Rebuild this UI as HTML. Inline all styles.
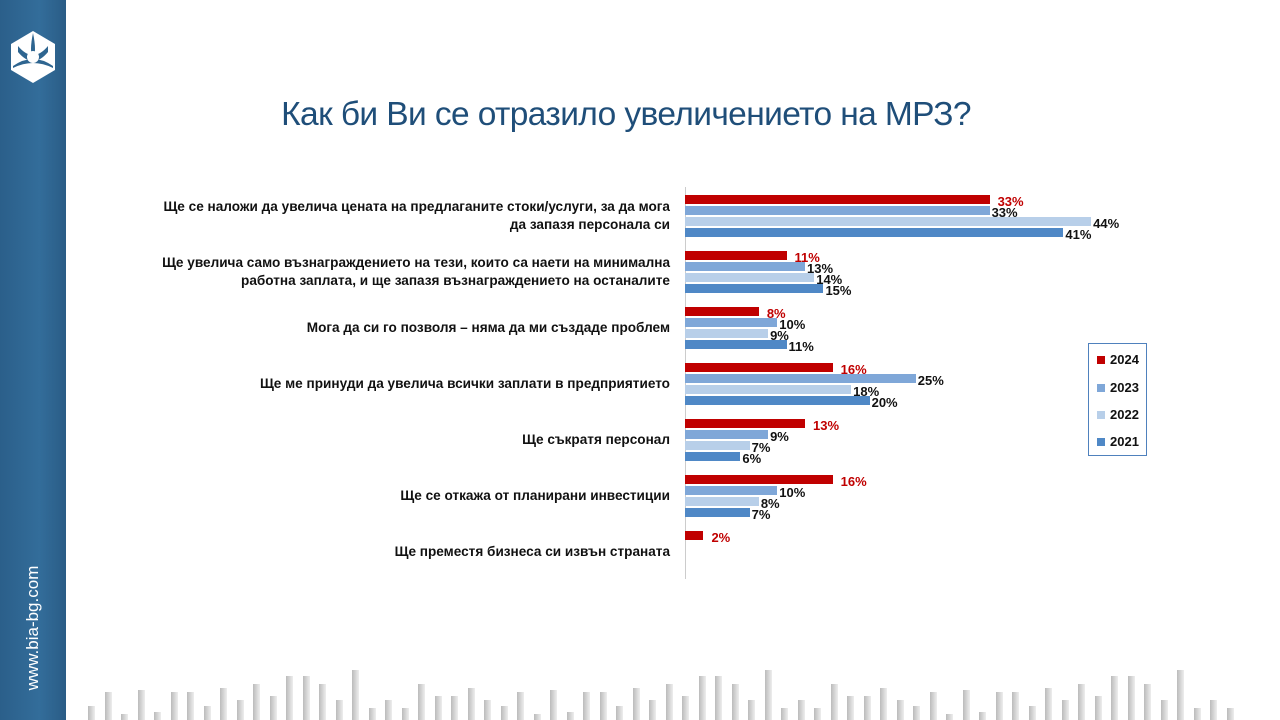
<!DOCTYPE html>
<html><head><meta charset="utf-8"><style>
body{margin:0;width:1280px;height:720px;position:relative;background:#fff;font-family:"Liberation Sans",sans-serif;overflow:hidden}
.side{position:absolute;left:0;top:0;width:66px;height:720px;background:linear-gradient(90deg,#2b5f8a,#336d9a 60%,#2a5c86)}
.url{position:absolute;left:33px;top:628px;transform:translate(-50%,-50%) rotate(-90deg);color:#fff;font-size:17px;white-space:nowrap}
h1{position:absolute;left:277px;width:698px;text-align:center;top:96px;margin:0;font-weight:normal;font-size:33.5px;color:#1f4e79;letter-spacing:-0.6px;white-space:nowrap}
.lab{position:absolute;right:610px;text-align:right;font-size:13.6px;font-weight:bold;color:#111;line-height:18px;width:600px}
.bar{position:absolute;height:9px;left:685px}
.v{position:absolute;font-size:13px;font-weight:bold;color:#111;line-height:12px}
.r{color:#c00000}
.axis{position:absolute;left:685px;top:187px;width:1px;height:392px;background:#ccc}
.leg{position:absolute;left:1088px;top:343px;width:57px;height:111px;border:1px solid #4f81bd;background:#fff}
.leg div{position:absolute;left:8px;font-size:13px;font-weight:bold;color:#111}
.leg span{display:inline-block;width:8px;height:8px;margin-right:5px}
.deco{position:absolute;bottom:0;width:7px;background:linear-gradient(90deg,#bbb,#eee)}
</style></head><body>
<div class="side">
<svg width="66" height="100" style="position:absolute;left:0;top:0"><polygon points="33,31 55,44 55,70 33,83 11,70 11,44" fill="#fff"/><path d="M33,33 Q37,52 33,58 Q29,52 33,33Z" fill="#2e6590"/><path d="M13,68 Q33,58 53,68 L53,66 Q33,52 13,66Z" fill="#2e6590"/><path d="M18,46 Q33,64 48,46 L48,52 Q33,70 18,52Z" fill="#2e6590"/><circle cx="33" cy="57" r="6" fill="#fff"/></svg>
<div class="url">www.bia-bg.com</div>
</div>
<h1>Как би Ви се отразило увеличението на МРЗ?</h1>
<div class="axis"></div>
<div id="c"></div>
<div class="leg">
<div style="top:8px"><span style="background:#c00000"></span>2024</div>
<div style="top:36px"><span style="background:#7fa7d8"></span>2023</div>
<div style="top:63px"><span style="background:#b8cfe9"></span>2022</div>
<div style="top:90px"><span style="background:#4f88c6"></span>2021</div>
</div>
<div id="d"></div>
<script>
var L=["Ще се наложи да увелича цената на предлаганите стоки/услуги, за да мога<br>да запазя персонала си","Ще увелича само възнаграждението на тези, които са наети на минимална<br>работна заплата, и ще запазя възнаграждението на останалите","Мога да си го позволя – няма да ми създаде проблем","Ще ме принуди да увелича всички заплати в предприятието","Ще съкратя персонал","Ще се откажа от планирани инвестиции","Ще преместя бизнеса си извън страната"];
var D=[[33,33,44,41],[11,13,14,15],[8,10,9,11],[16,25,18,20],[13,9,7,6],[16,10,8,7],[2]];
var C=["#c00000","#7fa7d8","#b8cfe9","#4f88c6"];var h="";
for(var i=0;i<7;i++){var t=195+56*i;var n=L[i].indexOf("<br>")>0;
h+='<div class="lab" style="top:'+(t+21-(n?18:9))+'px">'+L[i]+'</div>';
for(var j=0;j<D[i].length;j++){var w=D[i][j]*9.23;var y=t+11*j;
h+='<div class="bar" style="top:'+y+'px;width:'+w+'px;background:'+C[j]+'"></div>';
h+='<div class="v'+(j==0?' r':'')+'" style="top:'+(y+1)+'px;left:'+(685+w+(j==0?8:2))+'px">'+D[i][j]+'%</div>';}}
document.getElementById("c").innerHTML=h;
var s="",x=88,hs=[14,20,24,8,24,20,32,28,12,44,28,32,50,20,6,36,44,28,20,12,36,30,24,36,14];
for(var k=0;k<70;k++){var hh=hs[(k*7)%hs.length];s+='<div class="deco" style="left:'+x+'px;height:'+hh+'px"></div>';x+=16.5;}
document.getElementById("d").innerHTML=s;
</script>
</body></html>
